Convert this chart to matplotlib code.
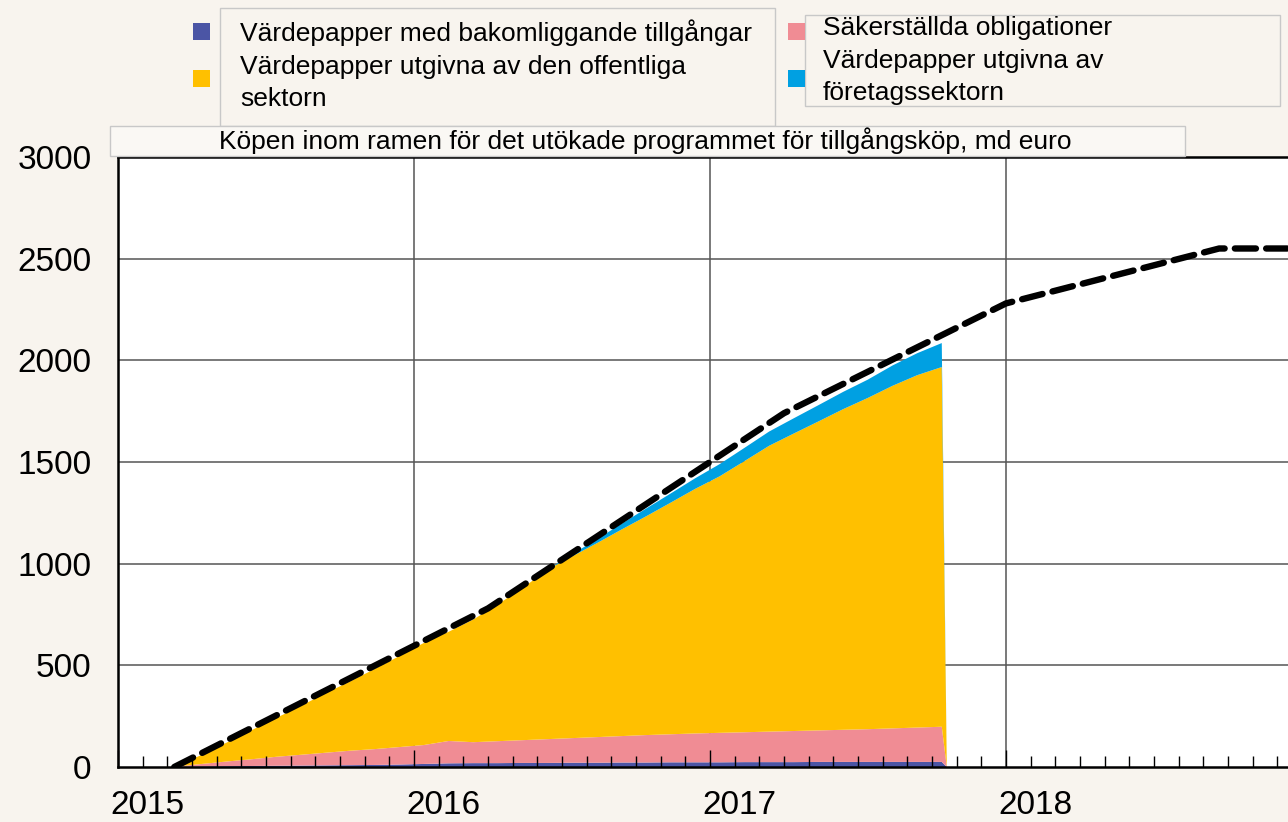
import matplotlib.pyplot as plt
import matplotlib.transforms as mtransforms
from matplotlib.patches import Rectangle

plt.rcParams['font.family'] = ['Liberation Sans', 'DejaVu Sans']

# monthly observation dates (decimal years), last point = end of the series
dates = [2015.200, 2015.283, 2015.367, 2015.450, 2015.533, 2015.617, 2015.700, 2015.783,
         2015.867, 2015.950, 2016.033, 2016.117, 2016.200, 2016.283, 2016.367, 2016.450,
         2016.533, 2016.617, 2016.700, 2016.783, 2016.867, 2016.950, 2017.033, 2017.117,
         2017.200, 2017.283, 2017.367, 2017.450, 2017.533, 2017.617, 2017.700, 2017.783,
         2017.800]

# md euro
abspp = [2, 3, 4, 5, 6, 7, 8, 9, 10, 12, 15, 18, 19, 19, 20, 20,
         21, 21, 22, 22, 23, 23, 23, 24, 24, 24, 25, 25, 25, 25, 25, 25, 0]
cbpp3 = [1, 12, 23, 33, 44, 53, 62, 71, 78, 86, 93, 110, 103, 108, 112, 117,
         121, 126, 130, 135, 138, 142, 145, 147, 150, 153, 155, 158, 161, 165, 169, 173, 0]
pspp = [2, 45, 93, 142, 190, 240, 292, 340, 394, 447, 502, 537, 603, 673, 748, 833,
        893, 953, 1015, 1075, 1139, 1203, 1262, 1334, 1406, 1463, 1520, 1577, 1629, 1685,
        1733, 1769, 0]
cspp = [0, 0, 0, 0, 0, 0, 0, 0, 0, 0, 0, 0, 0, 0, 0, 0,
        10, 20, 28, 38, 45, 52, 60, 65, 70, 75, 80, 85, 90, 100, 108, 118, 0]

# planned cumulative purchases
plan_dates = [2015.19, 2016.25, 2017.25, 2018.0, 2018.72, 2019.0]
plan_values = [0, 780, 1740, 2280, 2550, 2550]

labels = ['Värdepapper med bakomliggande tillgångar',
          'Värdepapper utgivna av den offentliga\nsektorn',
          'Säkerställda obligationer',
          'Värdepapper utgivna av\nföretagssektorn']
colors = ['#4B55A5', '#F08C94', '#FFC000', '#00A0E2']
title = 'Köpen inom ramen för det utökade programmet för tillgångsköp, md euro'
years = [2015, 2016, 2017, 2018]
yticks = [0, 500, 1000, 1500, 2000, 2500, 3000]

W, H = 1288, 822
bg = '#F8F4EE'

fig = plt.figure(figsize=(W / 100, H / 100), dpi=100, facecolor=bg)
ax = fig.add_axes([118 / W, 1 - 767 / H, 1 - 118 / W, (767 - 157) / H])
ax.set_facecolor('white')

ax.stackplot(dates, abspp, cbpp3, pspp, cspp, colors=colors, lw=0, zorder=1)
ax.plot(plan_dates, plan_values, color='black', lw=4.6, ls=(0, (3.3, 1.6)),
        dash_capstyle='round', zorder=3)

# grid drawn below the areas
for v in yticks[1:]:
    ax.axhline(v, color='#555555', lw=1.1, zorder=0.5)
for yr in years[1:]:
    ax.axvline(yr, color='#555555', lw=1.1, zorder=0.5)

ax.set_xlim(2015, 2015 + (W - 118) / 296)
ax.set_ylim(0, 3000)
ax.set_yticks(yticks)
ax.tick_params(axis='y', length=0, pad=19, labelsize=24)
ax.set_xticks(years)
ax.set_xticks([y + m / 12 for y in [2015, 2016, 2017, 2018] for m in range(1, 12)], minor=True)
ax.tick_params(axis='x', which='major', direction='in', length=12, width=1, labelbottom=False)
ax.tick_params(axis='x', which='minor', direction='in', length=8, width=1)
for s in ['left', 'bottom', 'top']:
    ax.spines[s].set_linewidth(1.8)
ax.spines['right'].set_visible(False)

trans = mtransforms.blended_transform_factory(ax.transData, fig.transFigure)
for yr in years:
    ax.text(yr + 0.1, 1 - 805 / H, str(yr), transform=trans, ha='center', va='center',
            fontsize=24, clip_on=False)


# legend and title boxes, in pixel coordinates of the figure
def px_rect(x0, y0, x1, y1, fc, ec):
    fig.add_artist(Rectangle((x0 / W, 1 - y1 / H), (x1 - x0) / W, (y1 - y0) / H,
                             transform=fig.transFigure, fc=fc, ec=ec, lw=1))


px_rect(220, 8, 775, 126, bg, '#C8C8C8')
px_rect(805, 15, 1280, 106, bg, '#C8C8C8')
px_rect(110, 126, 1185, 156, '#FAF8F4', '#C8C8C8')

px_rect(193, 23, 210, 40, colors[0], 'none')
px_rect(193, 70, 210, 87, colors[2], 'none')
px_rect(788, 23, 805, 40, colors[1], 'none')
px_rect(788, 70, 805, 87, colors[3], 'none')

fig.text(240 / W, 1 - 33 / H, labels[0], fontsize=19, va='center')
fig.text(240 / W, 1 - 83 / H, labels[1], fontsize=19, va='center', linespacing=1.38)
fig.text(823 / W, 1 - 28 / H, labels[2], fontsize=19, va='center')
fig.text(823 / W, 1 - 77 / H, labels[3], fontsize=19, va='center', linespacing=1.38)
fig.text(645 / W, 1 - 141 / H, title, fontsize=19, ha='center', va='center')

fig.savefig('out.png', dpi=100, facecolor=bg)
